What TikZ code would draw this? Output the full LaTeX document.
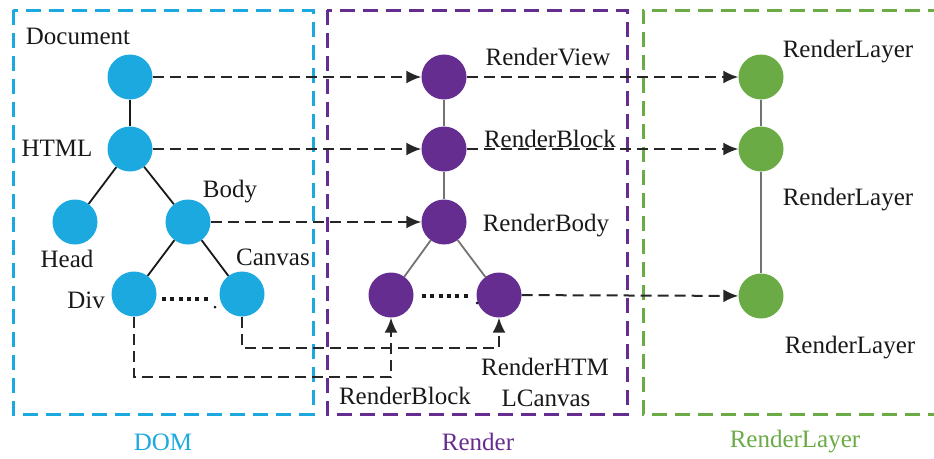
\documentclass[tikz,border=0pt]{standalone}
\usepackage{fontspec}
\setmainfont{Liberation Serif}
\newfontfamily\tfont{Liberation Serif}
\usetikzlibrary{arrows.meta}

\definecolor{domblue}{RGB}{27,169,224}
\definecolor{renpurple}{RGB}{102,45,145}
\definecolor{laygreen}{RGB}{106,171,70}

\tikzset{
  boxline/.style={dash pattern=on 15pt off 8pt, line width=3pt},
  dasharrow/.style={draw=black!85, line width=2pt, dash pattern=on 11pt off 6pt,
    -{Latex[length=15pt,width=13pt]}},
  dotsline/.style={line width=4pt, dash pattern=on 4pt off 4.3pt},
  lbl/.style={font=\tfont\fontsize{25}{30}\selectfont, text=black!90, inner sep=0pt}
}

\begin{document}
\begin{tikzpicture}[x=1pt,y=-1pt]

        \useasboundingbox (0,0) rectangle (934,458);

        % frames
        \draw[boxline, domblue]   (13,10) rectangle (313,414);
        \draw[boxline, renpurple] (327,10) rectangle (627,414);
        \draw[boxline, laygreen]  (943,10) -- (643,10) -- (643,414) -- (943,414);

        \node[lbl, text=domblue]   (tdom) at (163,442) {DOM};
        \node[lbl, text=renpurple] (tren) at (478,442) {Render};
        \node[lbl, text=laygreen]  (tlay) at (795,442) {RenderLayer};

        \begin{scope}[every node/.style={circle, minimum size=45pt, inner sep=0pt}]
          % DOM tree
          \node[fill=domblue] (doc)    at (130,77)  {};
          \node[fill=domblue] (html)   at (130,149) {};
          \node[fill=domblue] (head)   at (75,222)  {};
          \node[fill=domblue] (body)   at (188,222) {};
          \node[fill=domblue] (div)    at (134,294) {};
          \node[fill=domblue] (canvas) at (242,294) {};
          % render tree
          \node[fill=renpurple] (rview)  at (444,77)  {};
          \node[fill=renpurple] (rblock) at (444,149) {};
          \node[fill=renpurple] (rbody)  at (444,222) {};
          \node[fill=renpurple] (rleft)  at (391,295) {};
          \node[fill=renpurple] (rright) at (499,295) {};
          % layer tree
          \node[fill=laygreen] (lay1) at (761,77)  {};
          \node[fill=laygreen] (lay2) at (761,149) {};
          \node[fill=laygreen] (lay3) at (761,296) {};
        \end{scope}

        \begin{scope}[every node/.style={lbl}]
          \node (ldoc)    at (78,36)   {Document};
          \node (lhtml)   at (57,148)  {HTML};
          \node (lbody)   at (230,192) {Body};
          \node (lhead)   at (67,259)  {Head};
          \node (lcanvas) at (273,257) {Canvas};
          \node (ldiv)    at (86,300)  {Div};
          \node (lrview)  at (548,57)  {RenderView};
          \node (lrblock) at (550,139) {RenderBlock};
          \node (lrbody)  at (546,226) {RenderBody};
          \node (lrhtm)   at (545,367) {RenderHTM};
          \node (lrcanv)  at (546,398) {LCanvas};
          \node (lrblk2)  at (405,396) {RenderBlock};
          \node (llay1)   at (848,52)  {RenderLayer};
          \node (llay2)   at (848,200) {RenderLayer};
          \node (llay3)   at (850,348) {RenderLayer};
        \end{scope}

        \begin{scope}[line width=1.8pt]
          \draw[black!90] (doc) -- (html);
          \draw[black!90] (html) -- (head);
          \draw[black!90] (html) -- (body);
          \draw[black!90] (body) -- (div);
          \draw[black!90] (body) -- (canvas);
          \draw[black!55] (rview) -- (rblock);
          \draw[black!55] (rblock) -- (rbody);
          \draw[black!55] (rbody) -- (rleft);
          \draw[black!55] (rbody) -- (rright);
          \draw[black!55] (lay1) -- (lay2);
          \draw[black!55] (lay2) -- (lay3);
        \end{scope}

        \draw[dotsline, black!90] (162,299) -- (210,299);
        \fill[black!90] (215,307) circle (1.5pt);
        \draw[dotsline, black!90] (422,296) -- (470,296);
        \fill[black!90] (477,303) circle (1.5pt);

        \path[dasharrow] (doc) -- (rview);
        \path[dasharrow] (html) -- (rblock);
        \path[dasharrow] (body) -- (rbody);
        \path[dasharrow] (rview) -- (lay1);
        \path[dasharrow] (rblock) -- (lay2);
        \path[dasharrow] (rright) -- (lay3);
        \path[dasharrow] (div.south) -- ++(0,60) -| (rleft.south);
        \path[dasharrow] (canvas.south) -- ++(0,31) -| (rright.south);

      \end{tikzpicture}
\end{document}
